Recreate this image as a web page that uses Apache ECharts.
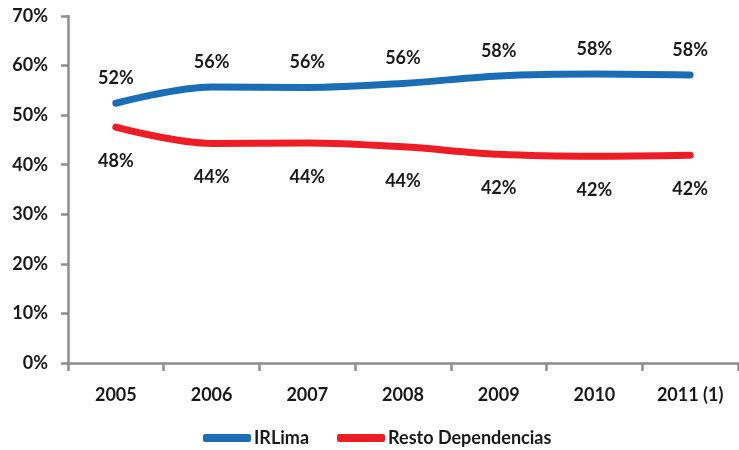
<!DOCTYPE html>
<html>
<head>
<meta charset="utf-8">
<script src="https://cdn.jsdelivr.net/npm/echarts@6/dist/echarts.min.js"></script>
<style>
  html, body { margin: 0; padding: 0; background: #fff; }
  #chart { width: 739px; height: 450px; }
</style>
</head>
<body>
<div id="chart"></div>
<script>
// Share of total (%) by year
const years = ['2005', '2006', '2007', '2008', '2009', '2010', '2011 (1)'];
const irLima = [52.4, 55.7, 55.6, 56.4, 57.9, 58.3, 58.1];
const restoDependencias = [47.6, 44.3, 44.4, 43.6, 42.1, 41.7, 41.9];
const yTicks = [0, 10, 20, 30, 40, 50, 60, 70];

const FONT = 'Lato, "Open Sans", sans-serif';
const AXIS_COLOR = '#8c8c8c';
const BLUE = '#1b6db5';
const RED = '#ee1d25';
const TEXT = '#1a1a1a';
const FS = 18;

const labelStyle = {
  show: true,
  fontFamily: FONT,
  fontWeight: 'bold',
  fontSize: FS,
  color: TEXT,
  textBorderWidth: 0,
  textBorderColor: 'transparent',
  formatter: p => Math.round(p.value) + '%'
};

const chart = echarts.init(document.getElementById('chart'), null, { renderer: 'canvas' });
chart.setOption({
  animation: false,
  backgroundColor: '#fff',
  grid: { left: 68, right: 1, top: 16, bottom: 87, containLabel: false },
  legend: {
    bottom: -2,
    left: 198,
    itemWidth: 48,
    itemHeight: 8,
    itemGap: 28,
    icon: 'roundRect',
    textStyle: { fontFamily: FONT, fontWeight: 'bold', fontSize: FS, color: TEXT, padding: [0, 0, 0, -2] },
    data: ['IRLima', 'Resto Dependencias']
  },
  xAxis: {
    type: 'category',
    data: years,
    boundaryGap: true,
    axisLine: { lineStyle: { color: AXIS_COLOR, width: 2.5 } },
    axisTick: { show: true, length: 8, alignWithLabel: false, lineStyle: { color: AXIS_COLOR, width: 2.5 } },
    axisLabel: { margin: 23, fontFamily: FONT, fontWeight: 'bold', fontSize: FS, color: TEXT },
    splitLine: { show: false }
  },
  yAxis: {
    type: 'value',
    min: yTicks[0],
    max: yTicks[yTicks.length - 1],
    interval: 10,
    axisLine: { show: true, lineStyle: { color: AXIS_COLOR, width: 2.5 } },
    axisTick: { show: true, length: 7, lineStyle: { color: AXIS_COLOR, width: 2.5 } },
    axisLabel: { margin: 20, fontFamily: FONT, fontWeight: 'bold', fontSize: FS, color: TEXT, formatter: v => v + '%' },
    splitLine: { show: false }
  },
  series: [
    {
      name: 'IRLima',
      type: 'line',
      data: irLima,
      smooth: 0.35,
      showSymbol: true,
      showAllSymbol: true,
      symbol: 'circle',
      symbolSize: 2,
      itemStyle: { color: BLUE },
      lineStyle: { color: BLUE, width: 7, cap: 'round', join: 'round' },
      label: Object.assign({}, labelStyle, { position: 'top', distance: 15 })
    },
    {
      name: 'Resto Dependencias',
      type: 'line',
      data: restoDependencias,
      smooth: 0.35,
      showSymbol: true,
      showAllSymbol: true,
      symbol: 'circle',
      symbolSize: 2,
      itemStyle: { color: RED },
      lineStyle: { color: RED, width: 7, cap: 'round', join: 'round' },
      label: Object.assign({}, labelStyle, { position: 'bottom', distance: 24 })
    }
  ]
});
</script>
</body>
</html>
